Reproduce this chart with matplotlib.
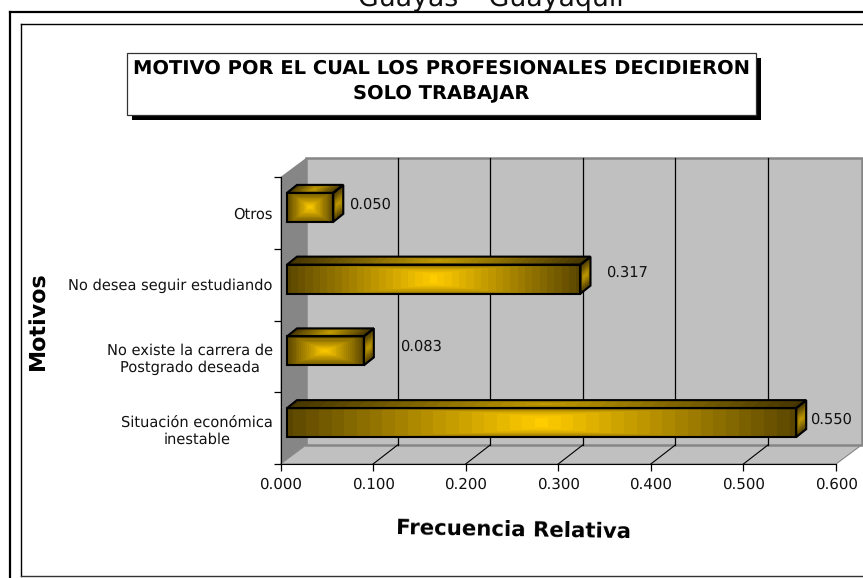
import numpy as np
import matplotlib
matplotlib.use('Agg')
import matplotlib.pyplot as plt
from matplotlib.patches import Rectangle, Polygon
from matplotlib.transforms import Affine2D, IdentityTransform

plt.rcParams['text.hinting'] = 'no_hinting'

categories = ['Situación económica\ninestable', 'No existe la carrera de\nPostgrado deseada',
              'No desea seguir estudiando', 'Otros']
values = [0.550, 0.083, 0.317, 0.050]
value_labels = ['0.550', '0.083', '0.317', '0.050']
x_ticks = [0.0, 0.1, 0.2, 0.3, 0.4, 0.5, 0.6]
title = 'MOTIVO POR EL CUAL LOS PROFESIONALES DECIDIERON\nSOLO TRABAJAR'

W, H = 863, 578
DEPTH = (25.5, 19)
BAR_SHIFT = (6.5, 5.5)
BAR_DEPTH = (10, 8)
BAR_H = 0.404
label_gap = [14, 36, 26, 16]
label_rise = [2.5, 4, 6.5, 2.5]
GOLD = np.array([255, 204, 0]) / 255
DARK = np.array([90, 69, 0]) / 255

fig = plt.figure(figsize=(W / 100, H / 100), dpi=100, facecolor='white')

# page layer: frame lines, clipped heading and title box, in pixels from the top left
page = fig.add_axes([0, 0, 1, 1], zorder=0)
page.set_xlim(0, W)
page.set_ylim(H, 0)
page.axis('off')
page.text(491, 6, 'Guayas – Guayaquil', fontsize=19.3, ha='center', va='baseline', color='#111111')
page.plot([10, W], [12, 12], color='black', lw=1.6)
page.plot([10, 10], [12, H], color='black', lw=1.6)
page.plot([21, W], [23.5, 23.5], color='black', lw=1)
page.plot([21, 21], [23.5, 576], color='black', lw=1)
page.plot([21, W], [576, 576], color='#333333', lw=1)

page.add_patch(Rectangle((132, 58), 629, 62, facecolor='black', edgecolor='none'))
page.add_patch(Rectangle((126.5, 52.5), 629, 62, facecolor='white', edgecolor='#333333', lw=0.9))
page.text(441, 81, title, fontsize=14, fontweight='bold', ha='center', va='center',
          linespacing=1.45, color='black')
page.text(39, 321, 'Motivos', fontsize=16, fontweight='bold', rotation=90, ha='center', va='center')
page.text(514, 531, 'Frecuencia Relativa', fontsize=15.3, fontweight='bold', rotation=-1,
          ha='center', va='center')

# chart layer: axes box is the front plane of the 3D box
ax = fig.add_axes([280.5 / W, (H - 464) / H, 555.5 / W, 287 / H], zorder=1)
ax.patch.set_alpha(0)
ax.set_xlim(0, 0.6)
ax.set_ylim(0, 4)
ax.set_autoscale_on(False)
for s in ['top', 'right']:
    ax.spines[s].set_visible(False)


def disp(x, y, dx=0, dy=0):
    px, py = ax.transData.transform((x, y))
    return px + dx, py + dy


def shifted(dx, dy):
    return ax.transData + Affine2D().translate(dx, dy)


def poly(points, **kw):
    ax.add_patch(Polygon(points, closed=True, transform=IdentityTransform(), clip_on=False, **kw))


dx, dy = DEPTH
# side wall, floor, back wall
poly([disp(0, 0), disp(0, 4), disp(0, 4, dx, dy), disp(0, 0, dx, dy)],
     facecolor='#868686', edgecolor='none', zorder=0.5)
poly([disp(0, 0), disp(0.6, 0), disp(0.6, 0, dx, dy), disp(0, 0, dx, dy)],
     facecolor='#c0c0c0', edgecolor='#868686', lw=0.8, zorder=0.5)
ax.add_patch(Rectangle((0, 0), 0.6, 4, transform=shifted(dx, dy), facecolor='#c0c0c0',
                       edgecolor='#868686', lw=1.8, clip_on=False, zorder=0.6))
for t in x_ticks[1:-1]:
    ax.plot([t, t], [0, 4], transform=shifted(dx - 1, dy), color='black', lw=0.9, clip_on=False, zorder=0.7)
    ax.plot([disp(t, 0)[0], disp(t, 0, dx - 1, dy)[0]], [disp(t, 0)[1], disp(t, 0, dx - 1, dy)[1]],
            transform=IdentityTransform(), color='black', lw=0.8, clip_on=False, zorder=0.7)


def gradient_face(x0, y0, ux, uy, vx, vy, shade=1.0, stubby=False):
    # bright in the middle and dark at the ends; short bars get concentric rectangles
    nu = max(int(np.hypot(ux, uy)), 2)
    nv = max(int(np.hypot(vx, vy)), 2)
    u, v = np.meshgrid(np.linspace(0, 1, nu + 1), np.linspace(0, 1, nv + 1))
    X = x0 + u * ux + v * vx
    Y = y0 + u * uy + v * vy
    uc = (np.arange(nu) + 0.5) / nu
    vc = (np.arange(nv) + 0.5) / nv
    uu, vv = np.meshgrid(uc, vc)
    if stubby:
        t = np.maximum(np.abs(2 * uu - 1), 0.85 * np.abs(2 * vv - 1))
    else:
        t = np.maximum(np.abs(2 * uu - 1), 0.7 * np.abs(2 * vv - 1) ** 2.5)
    t = np.round(t * 20) / 20
    rgb = (GOLD * (1 - t[..., None]) + DARK * t[..., None]) * shade
    ax.pcolormesh(X, Y, rgb, shading='flat', transform=IdentityTransform(), antialiased=False,
                  clip_on=False, zorder=3, edgecolor='none')


bx, by = BAR_SHIFT
ddx, ddy = BAR_DEPTH
for i, v in enumerate(values):
    lo, hi = i + 0.5 - BAR_H / 2, i + 0.5 + BAR_H / 2
    x0, y0 = disp(0, lo, bx, by)
    x1, y1 = disp(v, hi, bx, by)
    w, h = x1 - x0, y1 - y0
    gradient_face(x0, y0, w, 0, 0, h, stubby=w / h < 3)
    gradient_face(x0, y1, w, 0, ddx, ddy, shade=0.75)
    gradient_face(x1, y0, 0, h, ddx, ddy, shade=0.75)
    edge = dict(facecolor='none', edgecolor='black', lw=1.5, zorder=3.2, joinstyle='miter')
    poly([(x0, y0), (x1, y0), (x1, y1), (x0, y1)], **edge)
    poly([(x0, y1), (x1, y1), (x1 + ddx, y1 + ddy), (x0 + ddx, y1 + ddy)], **edge)
    poly([(x1, y0), (x1 + ddx, y0 + ddy), (x1 + ddx, y1 + ddy), (x1, y1)], **edge)
    ax.text(x1 + label_gap[i], (y0 + y1) / 2 + label_rise[i], value_labels[i], transform=IdentityTransform(),
            fontsize=10.5, ha='left', va='center', color='#111111', zorder=4, clip_on=False)

ax.set_xticks(x_ticks)
ax.set_xticklabels([f'{t:.3f}' for t in x_ticks], fontsize=10.8, color='#111111')
ax.set_yticks(range(5))
ax.set_yticklabels([])
ax.set_yticks([i + 0.5 for i in range(4)], minor=True)
ax.set_yticklabels(categories, minor=True, fontsize=10.5, color='#111111', ha='right', multialignment='center')
ax.tick_params(axis='y', which='minor', length=0, pad=5.5)
ax.tick_params(axis='both', which='major', length=5, width=0.9, pad=5)

plt.savefig('out.png', dpi=100)
plt.close()
